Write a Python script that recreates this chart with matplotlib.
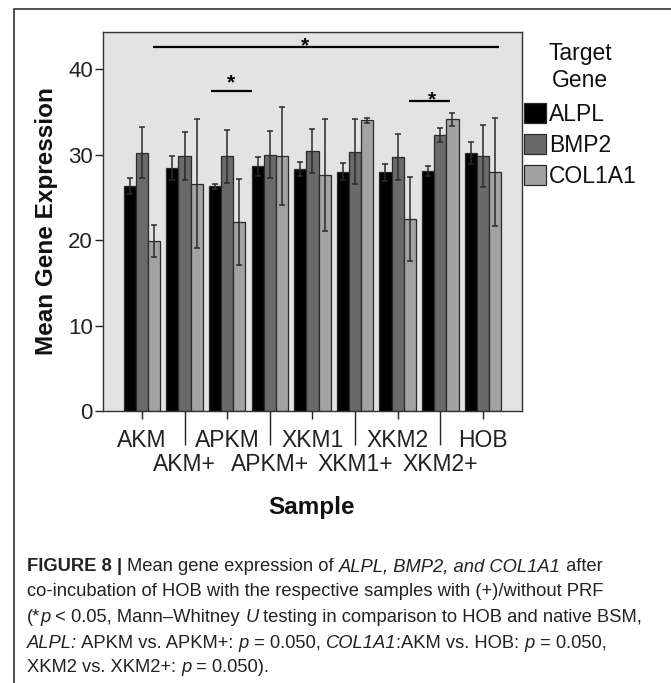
import numpy as np
import matplotlib
matplotlib.use('Agg')
import matplotlib.pyplot as plt
from matplotlib import font_manager as fm
from matplotlib.patches import Rectangle

# ---------------- data ----------------
samples = ['AKM', 'AKM+', 'APKM', 'APKM+', 'XKM1', 'XKM1+', 'XKM2', 'XKM2+', 'HOB']
genes = ['ALPL', 'BMP2', 'COL1A1']
alpl_mean = [26.3, 28.4, 26.3, 28.6, 28.3, 28.0, 27.9, 28.1, 30.2]
alpl_err = [0.9, 1.4, 0.3, 1.1, 0.8, 1.0, 1.0, 0.6, 1.3]
bmp2_mean = [30.2, 29.8, 29.8, 30.0, 30.4, 30.3, 29.7, 32.3, 29.8]
bmp2_err = [3.0, 2.8, 3.1, 2.7, 2.6, 3.8, 2.7, 0.8, 3.6]
col1a1_mean = [19.9, 26.6, 22.1, 29.8, 27.6, 34.0, 22.5, 34.1, 28.0]
col1a1_err = [1.9, 7.5, 5.0, 5.7, 6.5, 0.3, 4.9, 0.8, 6.3]
yticks = [0, 10, 20, 30, 40]

# significance brackets (x-extent in sample-index units, line height, star position)
sig_x0 = [0.25, 1.62, 6.26]
sig_x1 = [8.38, 2.58, 7.22]
sig_y = [42.5, 37.4, 36.3]
star_x = [3.83, 2.10, 6.80]
star_y = [43.4, 39.1, 37.1]

colors = ['#000000', '#6a6a6a', '#a2a2a2']

W, H = 671, 683
fig = plt.figure(figsize=(W / 100, H / 100), dpi=100)
fig.patch.set_facecolor('white')
plt.rcParams['font.family'] = ['Liberation Sans', 'DejaVu Sans']

ax = fig.add_axes([102.7 / W, 1 - 411.5 / H, (521.7 - 102.7) / W, (411.5 - 32) / H])
ax.set_facecolor('#e3e3e3')

x = np.arange(len(samples))
bw = 0.286
means = [alpl_mean, bmp2_mean, col1a1_mean]
errs = [alpl_err, bmp2_err, col1a1_err]
handles = []
for i, (g, m, e, c) in enumerate(zip(genes, means, errs, colors)):
    b = ax.bar(x + (i - 1) * bw, m, width=bw, color=c, edgecolor='#2a2a2a', linewidth=0.9,
               label=g, zorder=2)
    ax.errorbar(x + (i - 1) * bw, m, yerr=e, fmt='none', ecolor='#2a2a2a', elinewidth=1.1,
                capsize=2.2, capthick=1.1, zorder=3)
    handles.append(b)

ax.set_xlim(-0.92, 8.91)
ax.set_ylim(0, 44.3)
ax.set_yticks(yticks)
ax.set_yticklabels([str(v) for v in yticks])
ax.tick_params(axis='y', direction='out', length=6, width=1, labelsize=16, pad=1, colors='#222222')

ax.set_xticks(x[::2])
ax.set_xticklabels(samples[::2])
ax.set_xticks(x[1::2], minor=True)
ax.set_xticklabels(samples[1::2], minor=True)
ax.tick_params(axis='x', which='major', direction='out', length=5.5, width=1, labelsize=16.5,
               pad=7.0, colors='#222222')
ax.tick_params(axis='x', which='minor', direction='out', length=24.5, width=1, labelsize=16.5,
               pad=5.5, colors='#222222')
for sp in ax.spines.values():
    sp.set_linewidth(1.0)
    sp.set_color('#333333')

# significance
for a, b_, yy, sx, sy in zip(sig_x0, sig_x1, sig_y, star_x, star_y):
    ax.plot([a, b_], [yy, yy], color='black', lw=1.6, zorder=4, solid_capstyle='butt')
    ax.annotate('*', (sx, sy), xytext=(0, -0.58 * 15), textcoords='offset points',
                ha='center', va='baseline', fontsize=15, fontweight='bold', color='black')

# axis labels
fig.text(47 / W, 1 - 221.5 / H, 'Mean Gene Expression', rotation=90, ha='center', va='center',
         fontsize=17.5, fontweight='bold', color='#111111')
fig.text(312 / W, 1 - 514 / H, 'Sample', ha='center', va='baseline', fontsize=17.5,
         fontweight='bold', color='#111111')

# legend
fs = 16.5
em = fs * 100 / 72
leg = fig.legend(handles, genes, loc='upper left', bbox_to_anchor=(524 / W, 1 - 42 / H),
                 frameon=False, fontsize=fs, title='Target\nGene', title_fontsize=fs,
                 handlelength=22 / em, handleheight=22 / em, handletextpad=3 / em,
                 labelspacing=0.36, borderpad=0, borderaxespad=0)
leg._legend_box.sep = 8
for t in leg.get_texts():
    t.set_color('#111111')
leg.get_title().set_color('#111111')
leg.get_title().set_multialignment('center')

# outer frame
fig.add_artist(Rectangle((14 / W, -0.1), 1.2, (1 - 9 / H) + 0.1, transform=fig.transFigure,
                         fill=False, edgecolor='#333333', linewidth=1.2))

# caption
names = {f.name for f in fm.fontManager.ttflist}
cap_family = 'Liberation Sans Narrow' if 'Liberation Sans Narrow' in names else 'Liberation Sans'
renderer = fig.canvas.get_renderer()


def seg_width(s, size, weight='normal', style='normal'):
    t1 = fig.text(0, 0, 'x' + s + 'x', fontsize=size, family=cap_family, fontweight=weight,
                  fontstyle=style)
    t2 = fig.text(0, 0, 'xx', fontsize=size, family=cap_family, fontweight=weight, fontstyle=style)
    w = t1.get_window_extent(renderer).width - t2.get_window_extent(renderer).width
    t1.remove(); t2.remove()
    return w


N, I, B = ('normal', 'normal'), ('normal', 'italic'), ('bold', 'normal')
lines = [
    [('FIGURE 8 | ', B), ('Mean gene expression of ', N), ('ALPL, BMP2, and COL1A1', I), (' after', N)],
    [('co-incubation of HOB with the respective samples with (+)/without PRF', N)],
    [('(*', N), ('p', I), (' < 0.05, Mann\u2013Whitney ', N), ('U', I),
     (' testing in comparison to HOB and native BSM,', N)],
    [('ALPL:', I), (' APKM vs. APKM+: ', N), ('p', I), (' = 0.050, ', N), ('COL1A1', I),
     (':AKM vs. HOB: ', N), ('p', I), (' = 0.050,', N)],
    [('XKM2 vs. XKM2+: ', N), ('p', I), (' = 0.050).', N)],
]
base = 11.0
w3 = sum(seg_width(s, base, *st) for s, st in lines[2])
cap_size = base * 616 / w3
baselines = [571, 596.5, 622, 647.5, 672]
for segs, yb in zip(lines, baselines):
    xx = 27
    for s, (wt, st) in segs:
        fig.text(xx / W, 1 - yb / H, s, fontsize=cap_size, family=cap_family, fontweight=wt,
                 fontstyle=st, ha='left', va='baseline', color='#222222')
        xx += seg_width(s, cap_size, wt, st)

fig.savefig('out.png', dpi=100)
